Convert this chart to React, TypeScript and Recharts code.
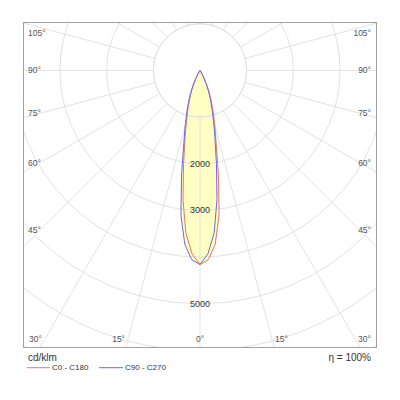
import React from 'react';
import { RadarChart, Radar, PolarGrid, PolarAngleAxis, PolarRadiusAxis } from 'recharts';

// Photometric angles (gamma, degrees from nadir) at which intensities were read
const GAMMA = [0, 2.5, 5, 7.5, 10, 12.5, 15, 17.5, 20, 22.5, 25, 27.5, 30, 32.5, 35];
// Luminous intensity in cd/klm per C-plane half (0 beyond 35°)
const C0 = [4160, 4060, 3740, 3130, 2280, 1600, 1230, 950, 720, 540, 360, 200, 90, 30, 0];
const C180 = [4160, 3930, 3490, 2790, 2030, 1480, 1130, 850, 640, 460, 290, 150, 60, 15, 0];
const C90 = [4160, 3930, 3490, 2790, 2030, 1480, 1130, 850, 640, 460, 290, 150, 60, 15, 0];
const C270 = [4160, 4060, 3740, 3130, 2280, 1600, 1230, 950, 720, 540, 360, 200, 90, 30, 0];

const RADIUS_TICK_LABELS = [2000, 3000, 5000];
const ANGLE_LABELS = [0, 15, 30, 45, 60, 75, 90, 105];
const SPOKE_GAMMAS = Array.from({ length: 24 }, (_, i) => i * 15);
const STEP = 2.5;

const lookup = (arr: number[], g: number) => {
  const idx = GAMMA.indexOf(g);
  return idx >= 0 ? arr[idx] : 0;
};

const table = Array.from({ length: 360 / STEP }, (_, i) => {
  const g = i * STEP;
  const right = g <= 180;
  const gg = right ? g : 360 - g;
  return {
    angle: g,
    c0c180: right ? lookup(C0, gg) : lookup(C180, gg),
    c90c270: right ? lookup(C90, gg) : lookup(C270, gg),
  };
});

// layout
const W_IN = 352;
const H_IN = 324;
const CX = 176;
const CY = 47.4;
const R_MAX = 7000;
const OUTER = 326.7;
const R1 = (OUTER * 1000) / R_MAX;
const GRID = '#e2e2e2';
const FILL = '#ffffc4';
const RED = '#f07070';
const BLUE = '#6a6ae6';
const FONT = '"Liberation Sans", Arial, sans-serif';
const M0 = { top: 0, right: 0, bottom: 0, left: 0 };
const SPOKES = SPOKE_GAMMAS.map((g) => -90 + g);

const RadiusTick = (props: any) => {
  const { x, y, payload } = props;
  if (!RADIUS_TICK_LABELS.includes(payload.value)) return <g />;
  return (
    <text x={x} y={y} textAnchor="middle" dominantBaseline="central" fontSize={9} fill="#333" fontFamily={FONT}>
      {payload.value}
    </text>
  );
};

const abs: React.CSSProperties = { position: 'absolute', left: 0, top: 0 };

const angleLabelPos = (g: number, side: number) => {
  const rad = (g * Math.PI) / 180;
  const bottomY = 316;
  if (g === 0) return { x: CX, y: bottomY, anchor: 'middle' };
  if (g < 45) {
    const sx = CX + side * (bottomY - CY) * Math.tan(rad);
    return { x: sx + side * 3, y: bottomY, anchor: side < 0 ? 'end' : 'start' };
  }
  const y = Math.max(10, CY + 160 / Math.tan(rad));
  return { x: side < 0 ? 4 : 347, y, anchor: side < 0 ? 'start' : 'end' };
};

const AngleAxis = () => (
  <PolarAngleAxis dataKey="angle" type="number" domain={[0, 360]} tick={false} axisLine={false} tickLine={false} />
);

export default function App() {
  const labels: any[] = [];
  ANGLE_LABELS.forEach((g) => {
    const sides = g === 0 ? [1] : [-1, 1];
    sides.forEach((s) => {
      const p = angleLabelPos(g, s);
      labels.push(
        <text key={`${g}-${s}`} x={p.x} y={p.y} textAnchor={p.anchor as any} dominantBaseline="central" fontSize={8.5} fill="#555" fontFamily={FONT}>
          {`${g}°`}
        </text>
      );
    });
  });

  return (
    <div style={{ position: 'relative', width: 384, height: 384, fontFamily: FONT }}>
      <div
        style={{
          position: 'absolute',
          left: 15,
          top: 14,
          width: 354,
          height: 326,
          border: '1px solid #a0a0a0',
          boxSizing: 'border-box',
          overflow: 'hidden',
          background: '#fff',
        }}
      >
        <div style={abs}>
          <RadarChart width={W_IN} height={H_IN} data={table} cx={CX} cy={CY} outerRadius={OUTER} startAngle={-90} endAngle={270} margin={M0}>
            <PolarAngleAxis dataKey="angle" type="number" domain={[0, 360]} tick={false} axisLine={false} tickLine={false} />
            <PolarRadiusAxis domain={[0, R_MAX]} tickCount={8} tick={false} axisLine={false} tickLine={false} />
            <Radar dataKey="c0c180" stroke="none" fill={FILL} fillOpacity={1} dot={false} isAnimationActive={false} />
            <Radar dataKey="c90c270" stroke="none" fill={FILL} fillOpacity={1} dot={false} isAnimationActive={false} />
          </RadarChart>
        </div>
        <div style={abs}>
          <RadarChart width={W_IN} height={H_IN} data={table} cx={CX} cy={CY} innerRadius={R1} outerRadius={360} startAngle={-90} endAngle={270} margin={M0}>
            <PolarGrid gridType="circle" polarAngles={SPOKES} polarRadius={[R1]} stroke={GRID} />
            <PolarAngleAxis dataKey="angle" type="number" domain={[0, 360]} tick={false} axisLine={false} tickLine={false} />
          </RadarChart>
        </div>
        <div style={abs}>
          <RadarChart width={W_IN} height={H_IN} data={table} cx={CX} cy={CY} outerRadius={OUTER} startAngle={-90} endAngle={270} margin={M0}>
            <PolarGrid gridType="circle" radialLines={false} stroke={GRID} />
            <PolarAngleAxis dataKey="angle" type="number" domain={[0, 360]} tick={false} axisLine={false} tickLine={false} />
            <Radar dataKey="c0c180" name="C0 - C180" stroke={RED} strokeWidth={1} fill="none" fillOpacity={0} dot={false} isAnimationActive={false} />
            <Radar dataKey="c90c270" name="C90 - C270" stroke={BLUE} strokeWidth={1} fill="none" fillOpacity={0} dot={false} isAnimationActive={false} />
            <PolarRadiusAxis angle={-90} domain={[0, R_MAX]} tickCount={8} axisLine={false} tickLine={false} tick={RadiusTick} />
          </RadarChart>
        </div>
        <svg style={abs} width={W_IN} height={H_IN}>
          {labels}
        </svg>
      </div>
      <svg style={abs} width={384} height={384} pointerEvents="none">
        <text x={20} y={353.2} fontSize={10} fill="#333" fontFamily={FONT}>cd/klm</text>
        <text x={363} y={353.2} fontSize={10} fill="#333" textAnchor="end" fontFamily={FONT}>η = 100%</text>
        <line x1={19} x2={42} y1={359.7} y2={359.7} stroke={RED} strokeWidth={1} />
        <text x={44} y={359.7} fontSize={8} fill="#333" dominantBaseline="central" fontFamily={FONT}>C0 - C180</text>
        <line x1={91} x2={115} y1={359.7} y2={359.7} stroke={BLUE} strokeWidth={1} />
        <text x={117} y={359.7} fontSize={8} fill="#333" dominantBaseline="central" fontFamily={FONT}>C90 - C270</text>
      </svg>
    </div>
  );
}
